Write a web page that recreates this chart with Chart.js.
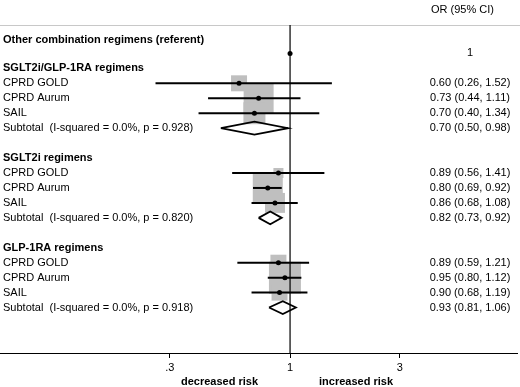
<!DOCTYPE html>
<html>
<head>
<meta charset="utf-8">
<script src="https://cdn.jsdelivr.net/npm/chart.js@4.4.1/dist/chart.umd.min.js"></script>
<style>
  body { margin: 0; background: #fff; }
  #wrap { width: 520px; height: 387px; }
</style>
</head>
<body>
<div id="wrap"><canvas id="forest" width="520" height="387"></canvas></div>
<script>
// --- Data ---
const referentLabel = 'Other combination regimens (referent)';
const referentOR = 1;

const groupNames = ['SGLT2i/GLP-1RA regimens', 'SGLT2i regimens', 'GLP-1RA regimens'];
const sources = ['CPRD GOLD', 'CPRD Aurum', 'SAIL'];

// one entry per source, groups in order
const studyOR = [0.60, 0.73, 0.70, 0.89, 0.80, 0.86, 0.89, 0.95, 0.90];
const studyLo = [0.26, 0.44, 0.40, 0.56, 0.69, 0.68, 0.59, 0.80, 0.68];
const studyHi = [1.52, 1.11, 1.34, 1.41, 0.92, 1.08, 1.21, 1.12, 1.19];
const studyWeight = [5.6, 19.7, 10.6, 2.2, 19.7, 8.7, 5.6, 22.4, 5.6]; // % weight (box area)

const subOR = [0.70, 0.82, 0.93];
const subLo = [0.50, 0.73, 0.81];
const subHi = [0.98, 0.92, 1.06];
const subI2 = ['0.0%', '0.0%', '0.0%'];
const subP = ['0.928', '0.820', '0.918'];

const tickValues = [0.3, 1, 3];
const tickLabels = ['.3', '1', '3'];

// --- Row layout (row index = line in the table) ---
const rows = [];   // {label, bold, right}
rows.push({ label: referentLabel, bold: true, right: '' });
rows.push({ label: '', bold: false, right: String(referentOR) });
const studyRows = [], subRows = [];
const fmt = v => v.toFixed(2);
groupNames.forEach((g, gi) => {
  rows.push({ label: g, bold: true, right: '' });
  sources.forEach((s, si) => {
    const k = gi * sources.length + si;
    studyRows.push(rows.length);
    rows.push({ label: s, bold: false, right: `${fmt(studyOR[k])} (${fmt(studyLo[k])}, ${fmt(studyHi[k])})` });
  });
  subRows.push(rows.length);
  rows.push({ label: `Subtotal  (I-squared = ${subI2[gi]}, p = ${subP[gi]})`, bold: false,
              right: `${fmt(subOR[gi])} (${fmt(subLo[gi])}, ${fmt(subHi[gi])})` });
  if (gi < groupNames.length - 1) rows.push({ label: '', bold: false, right: '' });
});

const Y_MIN = -0.9, Y_MAX = 21.04;
const FONT = '"Liberation Sans", Arial, Helvetica, sans-serif';
Chart.defaults.font.family = FONT;
Chart.defaults.font.size = 11;
Chart.defaults.color = '#000';

// --- Datasets ---
const datasets = [];

// point estimates (drawn on top)
datasets.push({
  type: 'scatter',
  data: [{ x: referentOR, y: 1 }].concat(studyOR.map((v, i) => ({ x: v, y: studyRows[i] }))),
  pointRadius: 2.5, pointBackgroundColor: '#000', pointBorderWidth: 0
});

// line of no effect
datasets.push({
  type: 'line',
  data: [{ x: 1, y: Y_MIN }, { x: 1, y: Y_MAX }],
  borderColor: '#000', borderWidth: 1.2, pointRadius: 0
});

// confidence intervals
studyOR.forEach((v, i) => {
  datasets.push({
    type: 'line',
    data: [{ x: studyLo[i], y: studyRows[i] }, { x: studyHi[i], y: studyRows[i] }],
    borderColor: '#000', borderWidth: 2, pointRadius: 0
  });
});

// subtotal diamonds
subOR.forEach((v, i) => {
  const r = subRows[i];
  datasets.push({
    type: 'line',
    data: [{ x: subLo[i], y: r }, { x: v, y: r - 0.43 }, { x: subHi[i], y: r },
           { x: v, y: r + 0.43 }, { x: subLo[i], y: r }],
    borderColor: '#000', borderWidth: 1.8, pointRadius: 0, tension: 0, fill: false,
    borderJoinStyle: 'miter'
  });
});

// weight boxes (drawn first)
datasets.push({
  type: 'scatter',
  data: studyOR.map((v, i) => ({ x: v, y: studyRows[i] })),
  pointStyle: 'rect',
  pointRadius: studyWeight.map(w => 6.76 * Math.sqrt(w) / Math.SQRT2),
  pointBackgroundColor: '#bfbfbf', pointBorderWidth: 0
});

// --- Text columns ---
const textPlugin = {
  id: 'forestText',
  beforeDatasetsDraw(chart) {
    const { ctx, chartArea } = chart;
    ctx.save();
    ctx.strokeStyle = '#c8c8c8';
    ctx.lineWidth = 1;
    ctx.beginPath();
    ctx.moveTo(0, Math.round(chartArea.top) + 0.5);
    ctx.lineTo(chart.width, Math.round(chartArea.top) + 0.5);
    ctx.stroke();
    ctx.restore();
  },
  afterDraw(chart) {
    const { ctx, scales: { x, y } } = chart;
    ctx.save();
    ctx.fillStyle = '#000';
    ctx.textBaseline = 'middle';
    rows.forEach((r, i) => {
      const py = y.getPixelForValue(i) + (i === 0 ? 1.5 : 0);
      ctx.font = (r.bold ? 'bold ' : '') + '11px ' + FONT;
      ctx.textAlign = 'left';
      if (r.label) ctx.fillText(r.label, 3, py);
      ctx.font = '11px ' + FONT;
      ctx.textAlign = 'center';
      if (r.right) ctx.fillText(r.right, 470, py);
    });
    ctx.textAlign = 'left';
    ctx.fillText('OR (95% CI)', 431, 10);
    const p1 = x.getPixelForValue(1);
    ctx.font = 'bold 11px ' + FONT;
    ctx.textAlign = 'right';
    ctx.fillText('decreased risk', p1 - 32, 382);
    ctx.textAlign = 'left';
    ctx.fillText('increased risk', p1 + 29, 382);
    ctx.restore();
  }
};

new Chart(document.getElementById('forest'), {
  data: { datasets },
  options: {
    responsive: false,
    animation: false,
    events: [],
    layout: { autoPadding: false, padding: { top: 25, left: 0, right: 3, bottom: 0 } },
    plugins: { legend: { display: false }, tooltip: { enabled: false } },
    scales: {
      x: {
        type: 'logarithmic',
        min: 0.0548, max: 9.70,
        afterBuildTicks: s => { s.ticks = tickValues.map(v => ({ value: v })); },
        afterFit: s => { s.height = 34; },
        ticks: {
          autoSkip: false, maxRotation: 0, padding: 3,
          callback: (v) => tickLabels[tickValues.indexOf(v)]
        },
        grid: { drawOnChartArea: false, drawTicks: true, tickLength: 5, color: '#000' },
        border: { display: true, color: '#000', width: 1 }
      },
      y: {
        type: 'linear', reverse: true, display: false,
        min: Y_MIN, max: Y_MAX
      }
    }
  },
  plugins: [textPlugin]
});
</script>
</body>
</html>
